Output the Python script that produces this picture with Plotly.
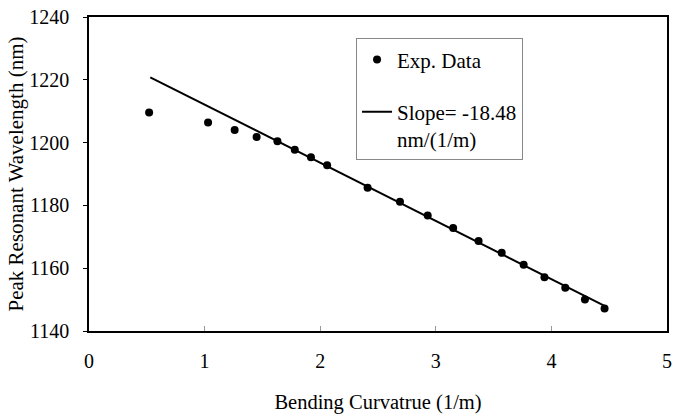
import plotly.graph_objects as go

curvature = [0.52, 1.03, 1.26, 1.45, 1.63, 1.78, 1.92, 2.06, 2.41, 2.69,
             2.93, 3.15, 3.37, 3.57, 3.76, 3.94, 4.12, 4.29, 4.46]
wavelength = [1209.6, 1206.4, 1204.0, 1201.8, 1200.4, 1197.7, 1195.3, 1192.8,
              1185.6, 1181.2, 1176.8, 1172.8, 1168.7, 1164.9, 1161.1, 1157.1,
              1153.8, 1150.0, 1147.2]

# Linear fit line endpoints
fit_x = [0.53, 4.46]
fit_y = [1220.8, 1148.0]

x_ticks = [0, 1, 2, 3, 4, 5]
y_ticks = [1140, 1160, 1180, 1200, 1220, 1240]

FONT = "Liberation Serif, Times New Roman, serif"

fig = go.Figure()
fig.add_trace(go.Scatter(
    x=curvature, y=wavelength, mode="markers", name="Exp. Data",
    legendgroup="a",
    marker=dict(color="black", size=8)))
fig.add_trace(go.Scatter(
    x=fit_x, y=fit_y, mode="lines", name="Slope= -18.48<br>nm/(1/m)",
    legendgroup="b",
    line=dict(color="black", width=2)))

fig.update_layout(
    width=678, height=416,
    margin=dict(l=89, r=6, t=15, b=82),
    paper_bgcolor="white", plot_bgcolor="white",
    font=dict(family=FONT, color="black", size=20),
    showlegend=True,
    legend=dict(
        x=0.462, y=0.932, xanchor="left", yanchor="top",
        bgcolor="white", bordercolor="#888888", borderwidth=1,
        font=dict(family=FONT, size=21, color="black"),
        tracegroupgap=22, valign="top", itemwidth=30),
    xaxis=dict(
        range=[0, 5], tickvals=x_ticks, ticktext=[str(v) for v in x_ticks],
        showgrid=False, zeroline=False,
        showline=True, linecolor="black", linewidth=1.5, mirror=True,
        ticks="inside", ticklen=5, tickcolor="#999999", tickwidth=1,
        ticklabelstandoff=11, ticklabeloverflow="allow",
        title=dict(text="Bending Curvatrue (1/m)", font=dict(size=20.5), standoff=24)),
    yaxis=dict(
        range=[1140, 1240], tickvals=y_ticks, ticktext=[str(v) for v in y_ticks],
        showgrid=False, zeroline=False,
        showline=True, linecolor="black", linewidth=1.5, mirror=True,
        ticks="outside", ticklen=4, tickcolor="black", tickwidth=1,
        ticklabelstandoff=10,
        title=dict(text="Peak Resonant Wavelength (nm)", font=dict(size=21), standoff=0)),
)

fig.write_html("out.html",
               config={"displayModeBar": False},
               post_script="document.body.style.margin='0';document.body.style.overflow='hidden';")
